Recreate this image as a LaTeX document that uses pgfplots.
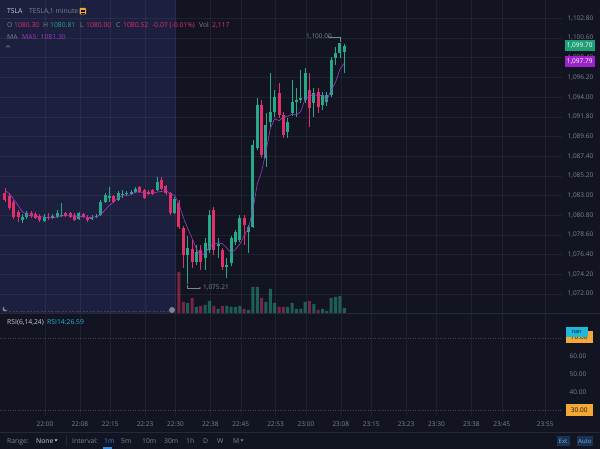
\documentclass[border=0pt]{standalone}
\usepackage{pgfplots}
\pgfplotsset{compat=1.18}
\usepackage{pgfplotstable}
\usepackage{fontspec}
\setmainfont{Open Sans}
\definecolor{bg}{HTML}{121521}
\definecolor{hl}{HTML}{1C1F3E}
\definecolor{upc}{HTML}{26A98A}
\definecolor{dnc}{HTML}{E0306A}
\definecolor{txt}{HTML}{7E8392}
\definecolor{txtw}{HTML}{C9CCD6}
\definecolor{mac}{HTML}{A03BC4}
\definecolor{sep}{HTML}{262A37}
\definecolor{tagg}{HTML}{1E9E78}
\definecolor{tagp}{HTML}{9C22C9}
\definecolor{orng}{HTML}{F4A937}
\definecolor{cyanb}{HTML}{1FB8D8}
\definecolor{blu}{HTML}{2D8CEB}

% up candles: index, open, high, low, close, volume (hundreds)
\pgfplotstableread{
k o h l c v
4 1080.25 1080.95 1079.95 1080.6 0
5 1080.6 1081.3 1080.4 1081.05 0
9 1080.15 1080.95 1080.05 1080.6 0
11 1080.5 1080.95 1080.4 1080.7 0
12 1080.6 1081.4 1080.5 1081.05 0
13 1080.7 1082.15 1080.6 1080.8 0
17 1080.4 1081.15 1080.25 1081.05 0
20 1080.4 1080.85 1080.25 1080.6 0
21 1080.6 1080.95 1080.5 1080.7 0
22 1080.85 1082.5 1080.7 1082.3 0
23 1082.3 1083.3 1082.15 1083.05 0
24 1082.75 1083.95 1082.3 1082.95 0
26 1082.5 1083.5 1082.4 1083.3 0
27 1083.05 1083.6 1082.75 1083.15 0
28 1083.15 1083.5 1082.95 1083.3 0
29 1083.15 1083.6 1083.05 1083.4 0
30 1083.4 1083.95 1083.3 1083.75 0
35 1083.6 1085.05 1083.5 1084.5 0
39 1081.05 1082.85 1080.95 1082.6 0
42 1076.35 1078.5 1073.1 1077.15 1000
44 1075.6 1077.5 1075.25 1076.7 600
46 1076.0 1078.25 1074.7 1077.7 800
47 1076.9 1081.4 1076.6 1080.85 1200
49 1077.35 1078.25 1076.0 1077.6 400
51 1075.0 1076.0 1073.8 1075.25 700
52 1075.45 1078.5 1075.1 1078.25 600
53 1077.8 1079.15 1077.5 1078.9 600
54 1078.05 1080.85 1077.8 1080.5 700
56 1078.9 1079.7 1076.6 1079.5 300
57 1079.5 1089.2 1079.4 1088.65 2600
58 1088.3 1093.9 1088.1 1093.1 2600
60 1087.2 1092.2 1086.2 1090.9 1100
61 1091.25 1096.7 1090.7 1092.35 2400
62 1092.35 1094.8 1091.8 1094.0 1000
65 1090.1 1091.65 1089.45 1091.25 600
66 1092.2 1095.9 1091.9 1093.45 1000
67 1093.45 1095.0 1091.8 1093.65 400
68 1093.65 1097.0 1093.35 1093.9 400
69 1093.65 1097.25 1093.35 1096.7 1100
71 1093.35 1095.0 1091.8 1094.45 900
73 1093.1 1094.55 1092.55 1094.2 400
74 1093.45 1094.55 1093.0 1094.2 200
75 1094.2 1098.5 1094.0 1098.15 1500
76 1098.35 1099.6 1097.6 1098.9 1600
77 1098.9 1100.0 1098.35 1100.0 1700
78 1099.05 1099.95 1096.7 1099.7 500
}\upT

% down candles
\pgfplotstableread{
k o h l c v
0 1083.3 1083.85 1082.3 1082.5 0
1 1082.95 1083.3 1081.4 1081.6 0
2 1082.3 1082.5 1080.4 1080.6 0
3 1081.15 1081.4 1080.05 1080.6 0
6 1081.05 1081.3 1080.5 1080.7 0
7 1080.95 1081.15 1080.4 1080.5 0
8 1080.7 1080.95 1080.05 1080.25 0
10 1080.6 1081.05 1080.25 1080.5 0
14 1081.05 1081.15 1080.6 1080.7 0
15 1081.05 1081.15 1080.5 1080.6 0
16 1080.85 1081.05 1080.15 1080.25 0
18 1080.95 1081.05 1080.5 1080.6 0
19 1080.6 1080.85 1080.05 1080.25 0
25 1082.95 1083.05 1082.15 1082.3 0
31 1083.95 1084.05 1083.3 1083.4 0
32 1083.6 1083.75 1082.6 1082.75 0
33 1083.4 1083.6 1083.05 1083.15 0
34 1083.6 1083.75 1083.05 1083.15 0
36 1084.75 1085.05 1083.6 1083.75 0
37 1084.05 1084.2 1083.05 1083.3 0
38 1083.3 1083.4 1080.85 1081.05 0
40 1082.15 1082.5 1079.25 1079.5 4100
41 1079.4 1079.6 1074.9 1076.35 1100
43 1077.05 1078.05 1074.9 1075.6 1500
45 1076.9 1077.5 1074.7 1075.6 700
48 1081.4 1081.7 1076.35 1076.9 700
50 1076.9 1077.15 1074.7 1075.0 700
55 1080.5 1080.85 1077.5 1079.7 400
59 1093.1 1093.65 1087.2 1087.55 1500
63 1094.45 1095.55 1091.65 1092.0 600
64 1092.0 1092.35 1089.45 1089.75 600
70 1094.8 1096.7 1090.7 1092.8 1200
72 1094.55 1095.0 1092.2 1092.9 300
}\dnT

% MA5 of close
\pgfplotstableread{
k m
0 1083.60
1 1083.20
2 1082.60
3 1081.90
4 1081.18
5 1080.89
6 1080.71
7 1080.69
8 1080.62
9 1080.62
10 1080.51
11 1080.51
12 1080.62
13 1080.73
14 1080.75
15 1080.77
16 1080.68
17 1080.68
18 1080.64
19 1080.55
20 1080.55
21 1080.64
22 1080.89
23 1081.38
24 1081.92
25 1082.26
26 1082.78
27 1082.95
28 1083.00
29 1083.09
30 1083.38
31 1083.40
32 1083.32
33 1083.29
34 1083.24
35 1083.39
36 1083.46
37 1083.57
38 1083.15
39 1083.04
40 1082.04
41 1080.56
42 1079.33
43 1078.24
44 1077.06
45 1076.28
46 1076.55
47 1077.29
48 1077.55
49 1077.73
50 1077.61
51 1077.12
52 1076.60
53 1077.00
54 1077.58
55 1078.52
56 1079.37
57 1081.45
58 1084.29
59 1085.70
60 1087.94
61 1090.51
62 1091.58
63 1091.36
64 1091.80
65 1091.87
66 1092.09
67 1092.02
68 1092.40
69 1093.79
70 1094.10
71 1094.30
72 1094.15
73 1094.21
74 1093.71
75 1094.78
76 1095.67
77 1097.09
78 1097.79
}\maT

\tikzset{tk/.style={font=\fontsize{6.5}{7}\selectfont, text=txt},
  gridl/.style={draw=white, draw opacity=0.06, line width=0.5pt}}
\pgfplotsset{
  pane/.style={scale only axis, width=562pt, xmin=-1.149, xmax=128.05, hide axis, clip=false},
}
\newcommand{\lt}[4]{\node[anchor=base west, inner sep=0pt, text=#3, font=\fontsize{6.8}{8}\selectfont] at (#1,#2) {#4};}
\newcommand{\tlab}[2]{\node[tk, anchor=center, inner sep=0pt] at (axis cs:#1,26.67) [yshift=-8pt] {#2};}

\begin{document}
\begin{tikzpicture}[x=1pt,y=1pt]
\useasboundingbox (0pt,0pt) rectangle (600pt,449pt);
\fill[bg] (0,0) rectangle (600,449);
\fill[hl] (0,136) rectangle (176,449);

% volume
\begin{axis}[pane, at={(0pt,136pt)}, anchor=south west, height=313pt, ymin=0, ymax=31300]
\addplot[ybar, bar width=3pt, bar shift=0pt, draw=none, fill=upc!50!bg] table[x=k,y=v] {\upT};
\addplot[ybar, bar width=3pt, bar shift=0pt, draw=none, fill=dnc!50!bg] table[x=k,y=v] {\dnT};
\end{axis}

% price
\begin{axis}[pane, at={(0pt,136pt)}, anchor=south west, height=313pt,
  ymin=1069.877, ymax=1104.849]
\pgfplotsinvokeforeach{9.2,17.2,24.2,32.2,39.2,47.2,54.2,62.2,69.2,77.2,84.2,92.2,99.2,107.2,114.2,124.2}{
  \draw[gridl] (axis cs:#1,1069.877) -- (axis cs:#1,1104.849);}
\pgfplotsinvokeforeach{1072,1074.2,1076.4,1078.6,1080.8,1083,1085.2,1087.4,1089.6,1091.8,1094,1096.2,1098.4,1100.6,1102.8}{
  \draw[gridl] (axis cs:-1.149,#1) -- (axis cs:128.05,#1);
  \node[tk, anchor=west, inner sep=0pt, xshift=5.5pt] at (axis cs:128.05,#1)
   {\pgfmathprintnumber[fixed, fixed zerofill, precision=2, 1000 sep={,}, assume math mode=true]{#1}};}
% wicks
\addplot[draw=none, mark=none, error bars/.cd, y dir=plus, y explicit, error mark=none,
  error bar style={draw=upc, line width=0.8pt}]
  table[x=k, y=l, y error plus expr=\thisrow{h}-\thisrow{l}] {\upT};
\addplot[draw=none, mark=none, error bars/.cd, y dir=plus, y explicit, error mark=none,
  error bar style={draw=dnc, line width=0.8pt}]
  table[x=k, y=l, y error plus expr=\thisrow{h}-\thisrow{l}] {\dnT};
% bodies
\addplot[draw=none, mark=none, error bars/.cd, y dir=plus, y explicit, error mark=none,
  error bar style={draw=upc, line width=3pt}]
  table[x=k, y=o, y error plus expr=\thisrow{c}-\thisrow{o}] {\upT};
\addplot[draw=none, mark=none, error bars/.cd, y dir=plus, y explicit, error mark=none,
  error bar style={draw=dnc, line width=3pt}]
  table[x=k, y=c, y error plus expr=\thisrow{o}-\thisrow{c}] {\dnT};
% MA5
\addplot[mac, line width=0.6pt, mark=none] table[x=k, y=m] {\maT};
\end{axis}

% RSI pane
\begin{axis}[pane, at={(0pt,33pt)}, anchor=south west, height=103pt, ymin=26.67, ymax=83.89]
\pgfplotsinvokeforeach{9.2,17.2,24.2,32.2,39.2,47.2,54.2,62.2,69.2,77.2,84.2,92.2,99.2,107.2,114.2,124.2}{
  \draw[gridl] (axis cs:#1,26.67) -- (axis cs:#1,83.89);}
\pgfplotsinvokeforeach{30,70}{
  \draw[draw=white, draw opacity=0.2, line width=0.5pt, dash pattern=on 1pt off 1.5pt] (axis cs:-1.149,#1) -- (axis cs:128.05,#1);}
\pgfplotsinvokeforeach{40,50,60}{
  \node[tk, anchor=west, inner sep=0pt, xshift=7.5pt] at (axis cs:128.05,#1)
   {\pgfmathprintnumber[fixed, fixed zerofill, precision=2, assume math mode=true]{#1}};}
\tlab{9.2}{22:00}\tlab{17.2}{22:08}\tlab{24.2}{22:15}\tlab{32.2}{22:23}
\tlab{39.2}{22:30}\tlab{47.2}{22:38}\tlab{54.2}{22:45}\tlab{62.2}{22:53}
\tlab{69.2}{23:00}\tlab{77.2}{23:08}\tlab{84.2}{23:15}\tlab{92.2}{23:23}
\tlab{99.2}{23:30}\tlab{107.2}{23:38}\tlab{114.2}{23:45}\tlab{124.2}{23:55}
\addplot[draw=none, mark=none] coordinates {(0,50)};
\end{axis}

% separators
\draw[sep, line width=0.6pt] (0,136) -- (600,136);
\draw[sep, line width=0.6pt] (0,17) -- (600,17);
\draw[dash pattern=on 2pt off 1.5pt, draw=white, draw opacity=0.15, line width=0.5pt] (9,138) -- (169,138);
\fill[txt] (172,139) circle (3);
\fill[txt] (5,140) circle (2.5); \fill[hl] (6.3,141.2) circle (2.2);

% high / low markers
\node[anchor=base west, inner sep=0pt, tk] at (306,410) {1,100.00};
\draw[txt, line width=0.5pt] (329,412) -- (340,412) -- (340,407);
\fill[txt] (329,412) circle (0.9);
\draw[txt, line width=0.5pt] (187.7,163.5) -- (187.7,161) -- (200,161);
\fill[txt] (200,161) circle (0.9);
\node[anchor=west, inner sep=0pt, tk] at (203,161) {1,075.21};

% price tags
\node[fill=tagg, text=white, font=\fontsize{6.5}{7}\selectfont, inner sep=1.5pt, minimum width=30pt, minimum height=11pt, anchor=west] at (564.5,403) {1,099.70};
\node[fill=tagp, text=white, font=\fontsize{6.5}{7}\selectfont, inner sep=1.5pt, minimum width=30pt, minimum height=11pt, anchor=west] at (564.5,387) {1,097.79};

% RSI tags
\node[fill=orng, text=bg, font=\fontsize{6.5}{7}\selectfont, inner sep=1.5pt, minimum width=27pt, minimum height=12pt, anchor=west] at (565.5,111.5) {70.00};
\node[fill=cyanb, text=bg, font=\fontsize{5.5}{6}\selectfont, inner sep=1pt, minimum width=22pt, minimum height=10pt, anchor=west] at (565.5,116.5) {nan};
\node[fill=orng, text=bg, font=\fontsize{6.5}{7}\selectfont, inner sep=1.5pt, minimum width=27pt, minimum height=12pt, anchor=west] at (565.5,39) {30.00};

% legend
\lt{7}{435.5}{txtw}{TSLA}
\lt{29}{435.5}{txt}{TESLA,1 minute}
\fill[orng, rounded corners=0.8pt] (79.5,434.5) rectangle (86,441);
\draw[bg, line width=0.5pt] (81,439) -- (84.5,439) (81,437.5) -- (84.5,437.5) (81,436) -- (84.5,436);
\lt{7}{421.5}{txt}{O}
\lt{14}{421.5}{dnc}{1080.30}
\lt{43}{421.5}{txt}{H}
\lt{50}{421.5}{upc}{1080.81}
\lt{80}{421.5}{txt}{L}
\lt{86}{421.5}{dnc}{1080.00}
\lt{116}{421.5}{txt}{C}
\lt{123}{421.5}{dnc}{1080.52}
\lt{152}{421.5}{dnc}{-0.07 (-0.01\%)}
\lt{199}{421.5}{txt}{Vol}
\lt{212}{421.5}{dnc}{2,117}
\lt{7}{409.5}{txt}{MA}
\lt{22}{409.5}{mac}{MA5: 1081.30}
\draw[txt, line width=0.6pt] (6,401.5) -- (8,403.5) -- (10,401.5);

% RSI legend
\lt{7}{124.5}{txtw}{RSI(6,14,24)}
\lt{47}{124.5}{cyanb}{RSI14:26.59}

% bottom bar
\lt{7}{5.5}{txt}{Range:}
\lt{36}{5.5}{txtw}{None}
\fill[txtw] (54.5,9.5) -- (57.5,9.5) -- (56,7.5) -- cycle;
\draw[sep, line width=0.8pt] (66,3) -- (66,14);
\lt{72}{5.5}{txt}{Interval:}
\lt{104}{5.5}{blu}{1m}
\fill[blu] (103,0) rectangle (111.5,2);
\lt{121}{5.5}{txt}{5m}
\lt{142}{5.5}{txt}{10m}
\lt{164}{5.5}{txt}{30m}
\lt{186}{5.5}{txt}{1h}
\lt{203}{5.5}{txt}{D}
\lt{217}{5.5}{txt}{W}
\lt{233}{5.5}{txt}{M}
\fill[txt] (240.5,9.5) -- (243.5,9.5) -- (242,7.5) -- cycle;
\node[fill=blu!25!bg, text=blu!70!white, font=\fontsize{6}{7}\selectfont, inner sep=1.5pt, minimum height=10pt, anchor=west] at (557,8) {Ext.};
\node[fill=blu!25!bg, text=blu!70!white, font=\fontsize{6}{7}\selectfont, inner sep=1.5pt, minimum height=10pt, anchor=west] at (576.5,8) {Auto};
\end{tikzpicture}
\end{document}
